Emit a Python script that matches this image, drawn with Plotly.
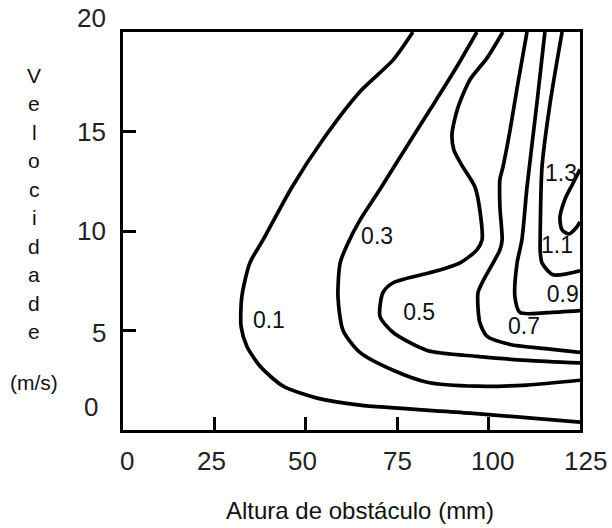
import plotly.graph_objects as go

# Contour levels and their traced curves (x: Altura de obstáculo mm, y: Velocidade m/s)
levels = ["0.1", "0.3", "0.5", "0.7", "0.9", "1.1", "1.3"]

c01_x = [79.3, 73.9, 64.8, 54.7, 46.2, 38.3, 34.7, 32.5, 32.3, 33.9, 37.5, 43.8, 53.1, 64.8, 94.9, 125]
c01_y = [20, 18.6, 17.0, 14.6, 12.2, 9.55, 8.4, 6.7, 5.2, 4.2, 3.2, 2.2, 1.6, 1.25, 0.85, 0.4]

c03_x = [96.8, 90.8, 84.0, 77.1, 70.3, 64.8, 61.3, 59.4, 58.8, 60.2, 64.8, 73.9, 83.2, 96.8, 110.5, 125]
c03_y = [20, 18.1, 16.1, 14.1, 12.1, 10.55, 9.3, 8.4, 6.7, 5.0, 3.9, 3.0, 2.4, 2.2, 2.26, 2.5]

c05_x = [103.9, 99.6, 94.9, 91.6, 90.0, 90.5, 92.7, 96.3, 97.6, 98.2, 96.8, 92.2, 85.9, 73.9, 71.1, 70.3, 73.9, 83.2, 96.8, 110.5, 125]
c05_y = [20, 18.7, 17.6, 16.2, 14.9, 14.07, 13.3, 12.2, 11.05, 9.55, 9.05, 8.4, 8.0, 7.4, 6.9, 5.7, 4.9, 4.0, 3.7, 3.5, 3.37]

c07_x = [110.5, 107.8, 105.9, 103.9, 103.1, 103.1, 103.7, 103.1, 98.5, 97.1, 97.6, 99.6, 105.9, 114.9, 125]
c07_y = [20, 17.2, 15.1, 13.2, 12.6, 11.2, 9.55, 9.05, 7.5, 6.9, 5.4, 4.7, 4.3, 4.1, 3.9]

c09_x = [115.4, 113.2, 110.5, 109.1, 107.8, 107.2, 108.6, 116.0, 125]
c09_y = [20, 16.4, 12.2, 9.55, 8.4, 6.7, 5.9, 5.9, 6.0]

c11_x = [120.1, 116.8, 114.6, 114.1, 114.1, 114.6, 117.6, 125]
c11_y = [20, 16.4, 13.2, 9.55, 9.05, 8.4, 7.8, 8.0]

c13_x = [125, 122.8, 120.9, 119.5, 120.1, 122.0, 123.9, 125]
c13_y = [13.1, 12.3, 11.6, 10.65, 10.05, 9.85, 10.15, 10.45]

# Contour label positions
label_x = [39.9, 69.5, 81.0, 109.7, 120.3, 118.7, 119.8]
label_y = [5.4, 9.65, 5.8, 5.1, 6.7, 9.2, 12.8]

x_ticks = [0, 25, 50, 75, 100, 125]
x_tick_text = ["0", "25", "50", "75", "100", "125"]
y_ticks = [0, 5, 10, 15, 20]
y_tick_text = ["0", "5", "10", "15", "20"]

y_title_lines = ["V", "e", "l", "o", "c", "i", "d", "a", "d", "e", "(m/s)"]
x_title = "Altura de obstáculo (mm)"

curves = [(c01_x, c01_y), (c03_x, c03_y), (c05_x, c05_y), (c07_x, c07_y),
          (c09_x, c09_y), (c11_x, c11_y), (c13_x, c13_y)]

FONT = "Liberation Sans, Arial, sans-serif"
TICK_FONT = dict(family=FONT, size=26, color="#222")

fig = go.Figure()
for (xs, ys), lv in zip(curves, levels):
    fig.add_trace(go.Scatter(
        x=xs, y=ys, mode="lines", name=lv,
        line=dict(color="black", width=3.7, shape="spline", smoothing=0.7),
        hoverinfo="skip", showlegend=False))

fig.add_trace(go.Scatter(
    x=label_x, y=label_y, mode="text", text=levels,
    textfont=dict(family=FONT, size=23, color="#111"),
    hoverinfo="skip", showlegend=False))

axis_common = dict(
    showline=True, mirror=True, linewidth=3, linecolor="black",
    ticks="inside", ticklen=13, tickwidth=3, tickcolor="black",
    showgrid=False, zeroline=False, showticklabels=False, automargin=False,
)

fig.update_xaxes(range=[0, 125], tickvals=x_ticks, **axis_common)
fig.update_yaxes(range=[0, 20], tickvals=y_ticks, **axis_common)

# tick labels (placed at the axis tick values, with the reference's small offsets)
x_label_shift = {0: 4, 25: -3, 50: -3, 100: 4, 125: 5}
for v, t in zip(x_ticks, x_tick_text):
    fig.add_annotation(text=t, xref="x", x=v, yref="paper", y=0,
                       xshift=x_label_shift.get(v, 0), yshift=-31,
                       xanchor="center", yanchor="middle", showarrow=False,
                       font=TICK_FONT)
y_label_shift = {20: 14, 5: -2, 0: 23}
for v, t in zip(y_ticks, y_tick_text):
    fig.add_annotation(text=t, xref="paper", x=0, yref="y", y=v,
                       xshift=(-23 if v == 0 else -15), yshift=y_label_shift.get(v, 0),
                       xanchor="right", yanchor="middle", showarrow=False,
                       font=TICK_FONT)

fig.add_annotation(
    text=x_title, xref="paper", yref="paper",
    x=0.5, xshift=8, y=0, yshift=-80, yanchor="middle", showarrow=False,
    font=dict(family=FONT, size=24, color="#111"))

# stacked vertical axis title, one line at a time
n = len(y_title_lines)
top_px, step_px = 75, 28.5
for i, s in enumerate(y_title_lines):
    py = top_px + i * step_px + (22 if i == n - 1 else 0)
    fig.add_annotation(
        text=s, xref="paper", x=0, xshift=-89, xanchor="center",
        yref="paper", y=1, yshift=-(py - 32), yanchor="middle",
        showarrow=False, font=dict(family=FONT, size=21, color="#111"))

fig.update_layout(
    width=612, height=528,
    margin=dict(l=123, r=32, t=32, b=98),
    paper_bgcolor="white", plot_bgcolor="white",
    hovermode=False,
)

fig.write_html("out.html", config={"displayModeBar": False, "staticPlot": True},
               post_script="document.body.style.margin='0';")
